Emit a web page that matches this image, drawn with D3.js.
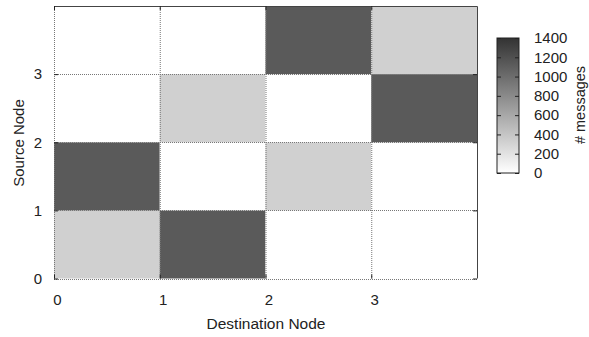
<!DOCTYPE html>
<html>
<head>
<meta charset="utf-8">
<script src="https://cdn.jsdelivr.net/npm/d3@7"></script>
<style>
  body { margin: 0; background: #fff; }
  text { font-family: "Liberation Sans", Arial, sans-serif; fill: #222; }
</style>
</head>
<body>
<div id="chart"></div>
<script>
// messages sent from each source node to each destination node
const sourceNodes = [0, 1, 2, 3];
const destNodes = [0, 1, 2, 3];
const messages = [
  [320, 1130, 0, 0],      // source 0
  [1130, 0, 320, 0],      // source 1
  [0, 320, 0, 1130],      // source 2
  [0, 0, 1130, 320]       // source 3
];
const axisTicks = [0, 1, 2, 3];
const colorTicks = [0, 200, 400, 600, 800, 1000, 1200, 1400];

const width = 589, height = 337;
const plot = { left: 54, right: 477, top: 6, bottom: 278.5 };
const bar = { left: 497, right: 519, top: 38, bottom: 173 };

const svg = d3.select("#chart").append("svg")
    .attr("width", width)
    .attr("height", height);

const x = d3.scaleLinear().domain([0, 4]).range([plot.left, plot.right]);
const y = d3.scaleLinear().domain([0, 4]).range([plot.bottom, plot.top]);
const color = d3.scaleLinear().domain([0, 1400]).range(["#ffffff", "#333333"]);

// cells
const cells = [];
sourceNodes.forEach((s, i) => destNodes.forEach((d, j) => cells.push({ s: s, d: d, v: messages[i][j] })));

svg.append("g").selectAll("rect")
    .data(cells)
    .enter().append("rect")
    .attr("x", d => x(d.d))
    .attr("y", d => y(d.s + 1))
    .attr("width", d => x(d.d + 1) - x(d.d))
    .attr("height", d => y(d.s) - y(d.s + 1))
    .attr("fill", d => color(d.v));

// dotted grid
const grid = svg.append("g").attr("stroke", "#777").attr("stroke-width", 1).attr("stroke-dasharray", "1,1");
axisTicks.forEach(t => {
  grid.append("line").attr("x1", x(t) + 0.5).attr("x2", x(t) + 0.5).attr("y1", plot.top).attr("y2", plot.bottom);
  grid.append("line").attr("y1", Math.round(y(t)) + 0.5).attr("y2", Math.round(y(t)) + 0.5).attr("x1", plot.left).attr("x2", plot.right);
});

// border on top and right
svg.append("path")
    .attr("d", `M${plot.left},${plot.top + 0.5}H${plot.right + 0.5}V${plot.bottom}`)
    .attr("fill", "none").attr("stroke", "#444").attr("stroke-width", 1);

// axes with inward ticks
const xAxis = svg.append("g")
    .attr("transform", `translate(0,${plot.bottom})`)
    .call(d3.axisBottom(x).tickValues(axisTicks).tickSize(-4).tickPadding(16).tickFormat(d3.format("d")));
const yAxis = svg.append("g")
    .attr("transform", `translate(${plot.left},0)`)
    .call(d3.axisLeft(y).tickValues(axisTicks).tickSize(-4).tickPadding(12).tickFormat(d3.format("d")));
svg.append("g")
    .attr("transform", `translate(${plot.right},0)`)
    .call(d3.axisRight(y).tickValues(axisTicks).tickSize(-4).tickFormat(""));
svg.append("g")
    .attr("transform", `translate(0,${plot.top})`)
    .call(d3.axisTop(x).tickValues(axisTicks).tickSize(-4).tickFormat(""));

svg.selectAll(".domain").attr("stroke", "none");
svg.selectAll(".tick line").attr("stroke", "#222");
[xAxis, yAxis].forEach(a => a.selectAll("text").attr("font-size", 15).attr("fill", "#222")
    .attr("font-family", "Liberation Sans, Arial, sans-serif"));
xAxis.selectAll("text").attr("dx", 3);

svg.append("text")
    .attr("x", 266)
    .attr("y", 329)
    .attr("text-anchor", "middle")
    .attr("font-size", 15.5)
    .text("Destination Node");

svg.append("text")
    .attr("transform", `translate(24,143) rotate(-90)`)
    .attr("text-anchor", "middle")
    .attr("font-size", 15)
    .text("Source Node");

// color bar
const defs = svg.append("defs");
const grad = defs.append("linearGradient").attr("id", "cbar")
    .attr("x1", 0).attr("y1", 1).attr("x2", 0).attr("y2", 0);
colorTicks.forEach(v => grad.append("stop")
    .attr("offset", v / 1400)
    .attr("stop-color", color(v)));

const cy = d3.scaleLinear().domain([0, 1400]).range([bar.bottom, bar.top]);

svg.append("rect")
    .attr("x", bar.left).attr("y", bar.top)
    .attr("width", bar.right - bar.left).attr("height", bar.bottom - bar.top)
    .attr("fill", "url(#cbar)")
    .attr("stroke", "#222").attr("stroke-width", 1);

const cAxis = svg.append("g")
    .attr("transform", `translate(${bar.right},0)`)
    .call(d3.axisRight(cy).tickValues(colorTicks).tickSize(-4).tickPadding(15).tickFormat(d3.format("d")));
svg.append("g")
    .attr("transform", `translate(${bar.left},0)`)
    .call(d3.axisLeft(cy).tickValues(colorTicks).tickSize(-4).tickFormat(""));
svg.selectAll(".domain").attr("stroke", "none");
svg.selectAll(".tick line").attr("stroke", "#222");
cAxis.selectAll("text").attr("font-size", 15).attr("fill", "#222")
    .attr("font-family", "Liberation Sans, Arial, sans-serif");

svg.append("text")
    .attr("transform", `translate(585,105) rotate(-90)`)
    .attr("text-anchor", "middle")
    .attr("font-size", 14.5)
    .text("# messages");
</script>
</body>
</html>
